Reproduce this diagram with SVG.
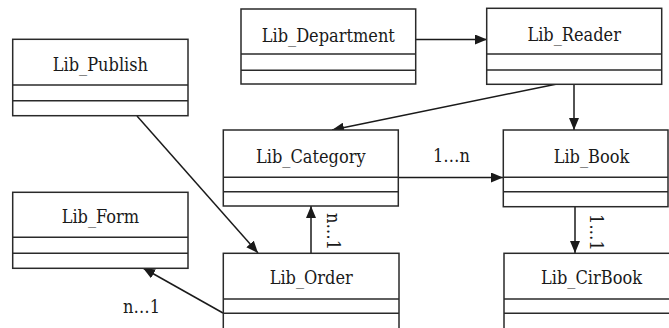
<svg xmlns="http://www.w3.org/2000/svg" width="669" height="328" viewBox="0 0 669 328">
<style>
.box{fill:#fff;stroke:#2a2a2a;stroke-width:1.5}
.div{stroke:#2a2a2a;stroke-width:1.5}
text{font-family:'DejaVu Serif',serif;font-stretch:condensed;font-size:18px;fill:#1a1a1a}
.t{text-anchor:middle}
.c{stroke:#1a1a1a;stroke-width:1.5;fill:none;marker-end:url(#ah)}
</style>
<defs>
<marker id="ah" markerWidth="12" markerHeight="10" refX="12" refY="5" orient="auto" markerUnits="userSpaceOnUse">
<path d="M0,0 L12,5 L0,10 Z" fill="#1a1a1a"/>
</marker>
</defs>
<rect width="669" height="328" fill="#fff"/>
<g id="connectors">
<path class="c" d="M416,39.5 L487,39.5"/>
<path class="c" d="M574,84 L574,130"/>
<path class="c" d="M557,84 L332,130"/>
<path class="c" d="M398,177.5 L503,177.5"/>
<path class="c" d="M575,207 L575,253"/>
<path class="c" d="M311,253 L311,206"/>
<path class="c" d="M137,116 L258,253"/>
<path class="c" d="M223,313 L143,268"/>
<text x="433" y="162">1…n</text>
<text x="123" y="313">n…1</text>
<text transform="translate(327,213) rotate(90)">n…1</text>
<text transform="translate(590,214) rotate(90)">1…1</text>
</g>
<g id="Lib_Publish">
<rect class="box" x="12.7" y="39.3" width="175.3" height="76.4"/>
<line class="div" x1="12.7" y1="85" x2="188" y2="85"/>
<line class="div" x1="12.7" y1="100.7" x2="188" y2="100.7"/>
<text class="t" x="100.4" y="71">Lib_Publish</text>
</g>
<g id="Lib_Department">
<rect class="box" x="241" y="9" width="174.7" height="75"/>
<line class="div" x1="241" y1="54" x2="415.7" y2="54"/>
<line class="div" x1="241" y1="70.3" x2="415.7" y2="70.3"/>
<text class="t" x="328.3" y="41.5">Lib_Department</text>
</g>
<g id="Lib_Reader">
<rect class="box" x="486.7" y="8.3" width="175" height="76"/>
<line class="div" x1="486.7" y1="54" x2="661.7" y2="54"/>
<line class="div" x1="486.7" y1="70" x2="661.7" y2="70"/>
<text class="t" x="574.2" y="40.5">Lib_Reader</text>
</g>
<g id="Lib_Category">
<rect class="box" x="223.3" y="130" width="175" height="76"/>
<line class="div" x1="223.3" y1="177.3" x2="398.3" y2="177.3"/>
<line class="div" x1="223.3" y1="191.7" x2="398.3" y2="191.7"/>
<text class="t" x="310.8" y="163.3">Lib_Category</text>
</g>
<g id="Lib_Book">
<rect class="box" x="503.3" y="130" width="164.7" height="76.7"/>
<line class="div" x1="503.3" y1="177.3" x2="668" y2="177.3"/>
<line class="div" x1="503.3" y1="191.7" x2="668" y2="191.7"/>
<text class="t" x="591.5" y="163.3">Lib_Book</text>
</g>
<g id="Lib_Form">
<rect class="box" x="12.7" y="192.3" width="175.3" height="76"/>
<line class="div" x1="12.7" y1="237.3" x2="188" y2="237.3"/>
<line class="div" x1="12.7" y1="253.3" x2="188" y2="253.3"/>
<text class="t" x="100.4" y="223.3">Lib_Form</text>
</g>
<g id="Lib_Order">
<rect class="box" x="223.3" y="253.3" width="175.7" height="80"/>
<line class="div" x1="223.3" y1="299" x2="399" y2="299"/>
<line class="div" x1="223.3" y1="313.3" x2="399" y2="313.3"/>
<text class="t" x="311.2" y="284.3">Lib_Order</text>
</g>
<g id="Lib_CirBook">
<rect class="box" x="504" y="253.3" width="175" height="80"/>
<line class="div" x1="504" y1="299" x2="679" y2="299"/>
<line class="div" x1="504" y1="313.3" x2="679" y2="313.3"/>
<text class="t" x="591.5" y="284.3">Lib_CirBook</text>
</g>
</svg>
